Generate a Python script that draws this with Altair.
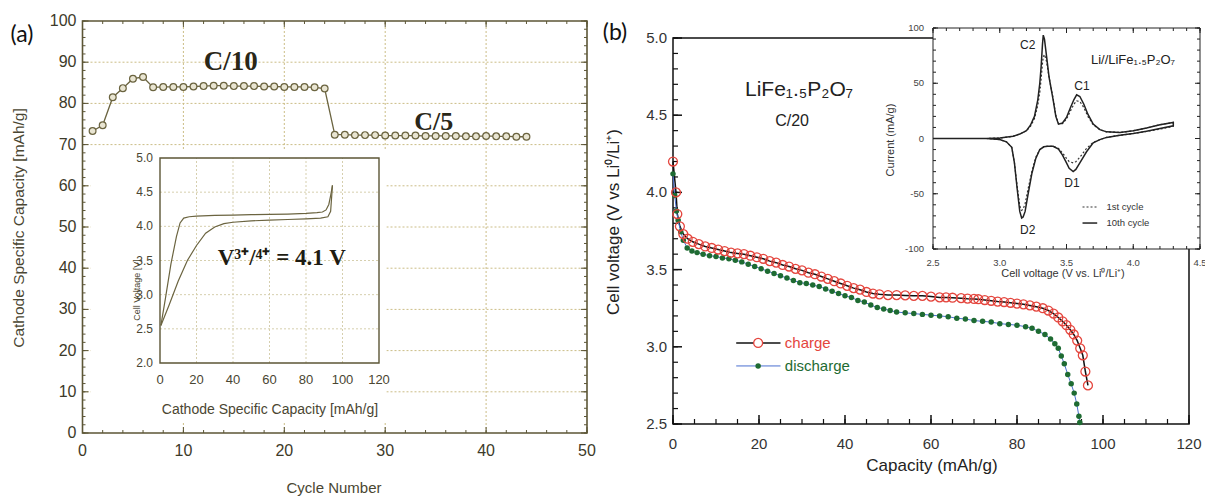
import altair as alt
import pandas as pd

W, H = 1205, 497
SANS = "Liberation Sans"
SERIF = "Liberation Serif"

# ---------------- panel (a): cycling ----------------
cycle_no = list(range(1, 45))
capacity_a = [73.3, 74.7, 81.5, 83.7, 86.0, 86.4, 83.9, 84.0, 84.0, 84.0,
              84.1, 84.2, 84.3, 84.3, 84.2, 84.2, 84.2, 84.1, 84.1, 84.0,
              84.0, 84.0, 83.9, 83.6, 72.4, 72.4, 72.3, 72.3, 72.3, 72.2,
              72.2, 72.2, 72.2, 72.1, 72.1, 72.1, 72.1, 72.0, 72.0, 72.1,
              72.0, 72.0, 71.9, 71.9]
a_xticks = [0, 10, 20, 30, 40, 50]
a_xlabels = ["0", "10", "20", "30", "40", "50"]
a_yticks = [0, 10, 20, 30, 40, 50, 60, 70, 80, 90, 100]
a_ylabels = ["0", "10", "20", "30", "40", "50", "60", "70", "80", "90", "100"]

# inset of (a): voltage profile
ins_up_cap = [0.5, 3, 6, 9, 11, 13, 16, 20, 30, 40, 50, 60, 70, 80, 86, 89, 91, 92.5, 93.5, 94.5]
ins_up_v = [2.55, 2.95, 3.45, 3.85, 4.05, 4.12, 4.14, 4.15, 4.16, 4.165, 4.17, 4.175, 4.18, 4.19,
            4.20, 4.21, 4.24, 4.32, 4.45, 4.60]
ins_dn_cap = [0.5, 5, 10, 15, 20, 25, 30, 35, 40, 50, 60, 70, 80, 88, 92, 93.5, 94.5]
ins_dn_v = [2.55, 2.85, 3.2, 3.5, 3.72, 3.9, 3.99, 4.04, 4.06, 4.08, 4.09, 4.10, 4.11, 4.12,
            4.14, 4.22, 4.60]
ia_xticks = [0, 20, 40, 60, 80, 100, 120]
ia_xlabels = ["0", "20", "40", "60", "80", "100", "120"]
ia_yticks = [2.0, 2.5, 3.0, 3.5, 4.0, 4.5, 5.0]
ia_ylabels = ["2.0", "2.5", "3.0", "3.5", "4.0", "4.5", "5.0"]

# ---------------- panel (b): charge / discharge ----------------
cap_charge = [0, 0.7, 1.0, 1.6, 2.4, 3.4, 4.6, 6.0, 7.5, 9.0, 10.5, 12.0, 13.5, 15.0, 16.5, 18.0,
              19.5, 21.0, 22.5, 24.0, 25.5, 27.0, 28.5, 30.0, 31.5, 33.0, 34.5, 36.0, 37.5, 39.0,
              40.5, 42.0, 43.5, 45.0, 46.5, 48.0, 50.0, 52.0, 54.0, 56.0, 58.0, 60.0, 62.0, 63.5,
              65.0, 67.0, 68.5, 70.0, 71.0, 72.5, 74.0, 75.5, 77.0, 78.5, 80.0, 81.5, 83.0, 84.5,
              86.0, 87.3, 88.5, 89.6, 90.6, 91.5, 92.4, 93.2, 94.0, 94.7, 95.3, 95.9, 96.5]
volt_charge = [4.20, 4.00, 3.86, 3.78, 3.73, 3.70, 3.68, 3.665, 3.65, 3.64, 3.63, 3.62, 3.61,
               3.605, 3.60, 3.59, 3.58, 3.57, 3.555, 3.545, 3.53, 3.52, 3.505, 3.495, 3.48, 3.47,
               3.455, 3.44, 3.425, 3.41, 3.395, 3.38, 3.37, 3.355, 3.345, 3.34, 3.335, 3.335,
               3.333, 3.33, 3.33, 3.325, 3.32, 3.32, 3.318, 3.315, 3.312, 3.31, 3.308, 3.303,
               3.298, 3.293, 3.29, 3.285, 3.28, 3.275, 3.268, 3.26, 3.25, 3.235, 3.215, 3.19,
               3.165, 3.14, 3.11, 3.08, 3.04, 2.99, 2.945, 2.84, 2.75]
cap_dis = [0, 0.4, 0.8, 1.2, 1.8, 2.4, 3.3, 4.4, 5.6, 7.0, 8.5, 10.0, 11.5, 13.0, 14.5, 16.0,
           17.5, 19.0, 20.5, 22.0, 23.5, 25.0, 26.5, 28.0, 29.5, 31.0, 32.5, 34.0, 35.5, 37.0,
           38.5, 40.0, 41.5, 43.0, 44.5, 46.0, 47.5, 49.0, 50.5, 52.0, 54.0, 56.0, 58.0, 60.0,
           62.0, 64.0, 66.0, 68.0, 70.0, 72.0, 74.0, 76.0, 78.0, 80.0, 82.0, 83.5, 85.0, 86.5,
           87.8, 88.8, 89.6, 90.3, 91.0, 91.8, 92.6, 93.3, 93.9, 94.4, 94.6]
volt_dis = [4.12, 3.98, 3.88, 3.82, 3.745, 3.69, 3.64, 3.62, 3.61, 3.60, 3.59, 3.585, 3.575, 3.57,
            3.56, 3.55, 3.535, 3.52, 3.505, 3.49, 3.475, 3.46, 3.445, 3.43, 3.415, 3.41, 3.40,
            3.39, 3.375, 3.36, 3.345, 3.33, 3.32, 3.30, 3.29, 3.27, 3.255, 3.245, 3.235, 3.225,
            3.22, 3.215, 3.21, 3.205, 3.20, 3.195, 3.185, 3.18, 3.17, 3.165, 3.16, 3.15, 3.145,
            3.14, 3.13, 3.12, 3.10, 3.08, 3.05, 3.02, 2.99, 2.94, 2.89, 2.82, 2.76, 2.70, 2.63,
            2.55, 2.51]
b_xticks = [0, 20, 40, 60, 80, 100, 120]
b_xlabels = ["0", "20", "40", "60", "80", "100", "120"]
b_yticks = [2.5, 3.0, 3.5, 4.0, 4.5, 5.0]
b_ylabels = ["2.5", "3.0", "3.5", "4.0", "4.5", "5.0"]

# inset of (b): cyclic voltammetry (anodic sweep then cathodic sweep)
cv_v_up = [2.5, 2.9, 3.0, 3.1, 3.15, 3.2, 3.23, 3.26, 3.285, 3.30, 3.31, 3.32, 3.326, 3.335,
           3.35, 3.37, 3.40, 3.42, 3.44, 3.47, 3.50, 3.53, 3.555, 3.576, 3.60, 3.63, 3.66, 3.70,
           3.75, 3.80, 3.90, 4.00, 4.10, 4.20, 4.30]
cv10_up = [0, 0, 0.5, 2, 4, 7, 12, 20, 35, 50, 65, 85, 93.5, 90, 75, 55, 35, 20, 13, 14, 19, 28,
           35, 39.5, 38, 31, 22, 13, 8, 6, 5.5, 7, 9.5, 12.5, 14.5]
cv1_up = [0, 0, 0.5, 2, 4, 7, 11, 18, 30, 42, 54, 68, 74, 76, 70, 55, 36, 21, 13.5, 13.5, 17.5,
          25, 31, 34, 33.5, 28, 20, 12.5, 8, 6, 5.5, 7, 9.5, 12.5, 14.5]
cv_v_dn = [4.30, 4.20, 4.10, 4.00, 3.90, 3.80, 3.75, 3.70, 3.65, 3.60, 3.57, 3.55, 3.52, 3.50,
           3.47, 3.44, 3.40, 3.36, 3.33, 3.30, 3.27, 3.24, 3.21, 3.19, 3.175, 3.164, 3.15, 3.13,
           3.11, 3.09, 3.05, 3.00, 2.90, 2.50]
cv10_dn = [11.5, 9, 6.5, 4.5, 3, 1, -1, -4, -12, -22, -28, -30, -27, -22, -15, -9.5, -7, -7,
           -7.5, -10, -18, -32, -52, -66, -71, -72, -66, -45, -22, -8, -3, -1, 0, 0]
cv1_dn = [11, 8.5, 6.5, 4.5, 3, 1, -1, -3.5, -9, -17, -21, -22, -21, -18, -13, -9, -7, -7, -7.5,
          -10, -17, -30, -47, -59, -64, -65, -61, -43, -22, -8, -3, -1, 0, 0]
c_xticks = [2.5, 3.0, 3.5, 4.0, 4.5]
c_xlabels = ["2.5", "3.0", "3.5", "4.0", "4.5"]
c_yticks = [-100, -50, 0, 50, 100]
c_ylabels = ["-100", "-50", "0", "50", "100"]


# ---------------- helpers ----------------
def S(dom, rng):
    return alt.Scale(domain=dom, range=rng, nice=False, zero=False)


def X(f, sc):
    return alt.X(f, type="quantitative", scale=sc, axis=None)


def Y(f, sc):
    return alt.Y(f, type="quantitative", scale=sc, axis=None)


def vrules(vals, lo, hi, xs, ys, **mk):
    d = pd.DataFrame({"v": vals, "lo": [lo] * len(vals), "hi": [hi] * len(vals)})
    return alt.Chart(d).mark_rule(**mk).encode(x=X("v", xs), y=Y("lo", ys), y2=alt.Y2(field="hi"))


def hrules(vals, lo, hi, xs, ys, **mk):
    d = pd.DataFrame({"v": vals, "lo": [lo] * len(vals), "hi": [hi] * len(vals)})
    return alt.Chart(d).mark_rule(**mk).encode(y=Y("v", ys), x=X("lo", xs), x2=alt.X2(field="hi"))


def xticks(vals, at, length, xs, ys, **mk):
    d = pd.DataFrame({"v": vals, "at": [at] * len(vals)})
    return alt.Chart(d).mark_rule(y2Offset=length, **mk).encode(
        x=X("v", xs), y=Y("at", ys), y2=alt.Y2(field="at"))


def yticks(vals, at, length, xs, ys, **mk):
    d = pd.DataFrame({"v": vals, "at": [at] * len(vals)})
    return alt.Chart(d).mark_rule(x2Offset=length, **mk).encode(
        y=Y("v", ys), x=X("at", xs), x2=alt.X2(field="at"))


def xlabels(vals, texts, at, dy, xs, ys, **mk):
    d = pd.DataFrame({"v": vals, "at": [at] * len(vals), "t": texts})
    return alt.Chart(d).mark_text(dy=dy, **mk).encode(
        x=X("v", xs), y=Y("at", ys), text=alt.Text("t:N"))


def ylabels(vals, texts, at, dx, xs, ys, **mk):
    d = pd.DataFrame({"v": vals, "at": [at] * len(vals), "t": texts})
    return alt.Chart(d).mark_text(dx=dx, align="right", **mk).encode(
        y=Y("v", ys), x=X("at", xs), text=alt.Text("t:N"))


def box(x0, x1, y0, y1, xs, ys, **mk):
    d = pd.DataFrame({"x0": [x0], "x1": [x1], "y0": [y0], "y1": [y1]})
    return alt.Chart(d).mark_rect(**mk).encode(
        x=X("x0", xs), x2=alt.X2(field="x1"), y=Y("y0", ys), y2=alt.Y2(field="y1"))


def line(xv, yv, xs, ys, **mk):
    d = pd.DataFrame({"x": xv, "y": yv, "i": list(range(len(xv)))})
    return alt.Chart(d).mark_line(**mk).encode(x=X("x", xs), y=Y("y", ys), order=alt.Order("i:Q"))


def pts(xv, yv, xs, ys, **mk):
    d = pd.DataFrame({"x": xv, "y": yv})
    return alt.Chart(d).mark_point(shape="circle", **mk).encode(x=X("x", xs), y=Y("y", ys))


def label(x, y, t, xs, ys, **mk):
    d = pd.DataFrame({"x": [x], "y": [y], "t": [t]})
    return alt.Chart(d).mark_text(**mk).encode(x=X("x", xs), y=Y("y", ys), text=alt.Text("t:N"))


def ptext(px, py, t, **mk):
    d = pd.DataFrame({"t": [t]})
    return alt.Chart(d).mark_text(**mk).encode(x=alt.value(px), y=alt.value(py), text=alt.Text("t:N"))


def minor(lo, hi, step):
    n = int(round((hi - lo) / step))
    return [round(lo + k * step, 4) for k in range(n + 1)]


# ---------------- scales (plot rectangles) ----------------
XA = S([0, 50], [82.5, 587])
YA = S([0, 100], [433, 21])
XI = S([0, 120], [160, 379])
YI = S([2.0, 5.0], [363, 158])
XB = S([0, 120], [673, 1189])
YB = S([2.5, 5.0], [424, 38])
XC = S([2.5, 4.5], [933, 1200])
YC = S([-100, 100], [249, 28])

OLIVE = "#5c5636"
OTXT = "#3d3a29"
GRID = "#cbbd86"
PT = "#6b6440"
RED = "#e4453d"
GREEN = "#1e6b32"
BLUE = "#4a6fd0"
DARK = "#222222"

L = []

# ---------- (a) main ----------
L.append(vrules([10, 20, 30, 40], 0, 100, XA, YA, color=GRID, strokeDash=[2, 2], strokeWidth=1))
L.append(hrules([10, 20, 30, 40, 50, 60, 70, 80, 90], 0, 50, XA, YA, color=GRID, strokeDash=[2, 2], strokeWidth=1))
# white backing of the inset picture
L.append(box(-38, 124, 1.14, 5.12, XI, YI, color="white"))
L.append(box(0, 50, 0, 100, XA, YA, fillOpacity=0, stroke=OLIVE, strokeWidth=1.6))
L.append(xticks(minor(0, 50, 2), 0, -3, XA, YA, color=OLIVE))
L.append(xticks(a_xticks, 0, -6, XA, YA, color=OLIVE))
L.append(xticks(minor(0, 50, 2), 100, 3, XA, YA, color=OLIVE))
L.append(xticks(a_xticks, 100, 6, XA, YA, color=OLIVE))
L.append(yticks(minor(0, 100, 2), 0, 3, XA, YA, color=OLIVE))
L.append(yticks(a_yticks, 0, 6, XA, YA, color=OLIVE))
L.append(yticks(minor(0, 100, 2), 50, -3, XA, YA, color=OLIVE))
L.append(yticks(a_yticks, 50, -6, XA, YA, color=OLIVE))
L.append(xlabels(a_xticks, a_xlabels, 0, 18, XA, YA, font=SANS, fontSize=16, color=OTXT))
L.append(ylabels(a_yticks, a_ylabels, 0, -6, XA, YA, font=SANS, fontSize=16, color=OTXT))
L.append(ptext(334, 488, "Cycle Number", font=SANS, fontSize=15, color="#4a4632"))
L.append(ptext(19, 228, "Cathode Specific Capacity [mAh/g]", font=SANS, fontSize=15.5,
               color="#4a4632", angle=270))
L.append(line(cycle_no, capacity_a, XA, YA, color=PT, strokeWidth=1.3))
L.append(pts(cycle_no, capacity_a, XA, YA, filled=True, fill="#e9e5d2", stroke=PT,
             strokeWidth=1.2, size=46, opacity=1))
L.append(label(14.7, 90, "C/10", XA, YA, font=SERIF, fontSize=27, fontWeight="bold", color="#2a2718"))
L.append(label(34.8, 75.5, "C/5", XA, YA, font=SERIF, fontSize=26, fontWeight="bold", color="#2a2718"))

# ---------- (a) inset ----------
L.append(vrules([20, 40, 60, 80, 100], 2.0, 5.0, XI, YI, color="#d6cfae", strokeDash=[2, 2], strokeWidth=1))
L.append(hrules([2.5, 3.0, 3.5, 4.0, 4.5], 0, 120, XI, YI, color="#d6cfae", strokeDash=[2, 2], strokeWidth=1))
L.append(box(0, 120, 2.0, 5.0, XI, YI, fillOpacity=0, stroke=OLIVE, strokeWidth=1.4))
L.append(xlabels(ia_xticks, ia_xlabels, 2.0, 17, XI, YI, font=SANS, fontSize=13, color="#4a4632"))
L.append(ylabels(ia_yticks, ia_ylabels, 0, -7, XI, YI, font=SANS, fontSize=12, color="#4a4632"))
L.append(ptext(270, 410, "Cathode Specific Capacity [mAh/g]", font=SANS, fontSize=14, color="#4a4632"))
L.append(ptext(137, 290, "Cell Voltage [V]", font=SANS, fontSize=9, color="#4a4632", angle=270))
L.append(line(ins_up_cap, ins_up_v, XI, YI, color=PT, strokeWidth=1.2))
L.append(line(ins_dn_cap, ins_dn_v, XI, YI, color=PT, strokeWidth=1.2))
L.append(label(66.7, 3.54, "V³⁺/⁴⁺ = 4.1 V", XI, YI, font=SERIF, fontSize=23, fontWeight="bold",
               color="#1e1c12"))

L.append(ptext(22, 35, "(a)", font="Lato", fontSize=23, color="#111111"))

# ---------- (b) main ----------
L.append(box(0, 120, 2.5, 5.0, XB, YB, fillOpacity=0, stroke="#111111", strokeWidth=1.5))
L.append(xticks(minor(0, 120, 5), 2.5, -5, XB, YB, color="#111111", strokeWidth=1.2))
L.append(xticks(b_xticks, 2.5, -9, XB, YB, color="#111111", strokeWidth=1.5))
L.append(yticks(minor(2.5, 5.0, 0.1), 0, 5, XB, YB, color="#111111", strokeWidth=1.2))
L.append(yticks(b_yticks, 0, 9, XB, YB, color="#111111", strokeWidth=1.5))
L.append(xlabels(b_xticks, b_xlabels, 2.5, 20, XB, YB, font=SANS, fontSize=15, color="#333333"))
L.append(ylabels(b_yticks, b_ylabels, 0, -6, XB, YB, font=SANS, fontSize=15, color="#333333"))
L.append(ptext(932, 466, "Capacity (mAh/g)", font=SANS, fontSize=17, color="#222222"))
L.append(ptext(614, 222, "Cell voltage (V vs Li⁰/Li⁺)", font=SANS, fontSize=17, color="#222222",
               angle=270))
L.append(line(cap_charge, volt_charge, XB, YB, color="#111111", strokeWidth=1.5))
L.append(line(cap_dis, volt_dis, XB, YB, color=BLUE, strokeWidth=1))
L.append(pts(cap_dis, volt_dis, XB, YB, filled=True, color=GREEN, size=30, opacity=1))
L.append(pts(cap_charge, volt_charge, XB, YB, filled=True, fill="white", fillOpacity=0,
             stroke=RED, strokeWidth=1.3, size=80, opacity=1))
L.append(label(29.3, 4.665, "LiFe₁.₅P₂O₇", XB, YB, font=SANS, fontSize=21, color="#222222"))
L.append(label(27.7, 4.46, "C/20", XB, YB, font=SANS, fontSize=16, color="#222222"))
# legend
L.append(hrules([3.025], 14.7, 25.0, XB, YB, color="#111111", strokeWidth=1.6))
L.append(pts([19.8], [3.025], XB, YB, filled=True, fill="white", stroke=RED, strokeWidth=1.3,
             size=80, opacity=1))
L.append(label(26.0, 3.025, "charge", XB, YB, align="left", font=SANS, fontSize=15, color=RED))
L.append(hrules([2.876], 14.7, 25.0, XB, YB, color=BLUE, strokeWidth=1))
L.append(pts([19.8], [2.876], XB, YB, filled=True, color=GREEN, size=30, opacity=1))
L.append(label(26.0, 2.876, "discharge", XB, YB, align="left", font=SANS, fontSize=15, color=GREEN))

L.append(ptext(615, 33, "(b)", font="Lato", fontSize=23, color="#111111"))

# ---------- (b) inset ----------
L.append(box(2.118, 4.388, -132.6, 89.0, XC, YC, color="white"))
L.append(box(2.5, 4.5, -100, 100, XC, YC, color="white", stroke=DARK, strokeWidth=1))
L.append(xticks(minor(2.5, 4.5, 0.1), -100, -3, XC, YC, color=DARK))
L.append(xticks(c_xticks, -100, -5, XC, YC, color=DARK))
L.append(xticks(minor(2.5, 4.5, 0.1), 100, 3, XC, YC, color=DARK))
L.append(xticks(c_xticks, 100, 5, XC, YC, color=DARK))
L.append(yticks(minor(-100, 100, 10), 2.5, 3, XC, YC, color=DARK))
L.append(yticks(c_yticks, 2.5, 5, XC, YC, color=DARK))
L.append(yticks(minor(-100, 100, 10), 4.5, -3, XC, YC, color=DARK))
L.append(yticks(c_yticks, 4.5, -5, XC, YC, color=DARK))
L.append(xlabels(c_xticks, c_xlabels, -100, 14, XC, YC, font=SANS, fontSize=9.5, color="#444444"))
L.append(ylabels(c_yticks, c_ylabels, 2.5, -9, XC, YC, font=SANS, fontSize=9.5, color="#444444"))
L.append(ptext(1063, 274, "Cell voltage (V vs. Li⁰/Li⁺)", font=SANS, fontSize=11, color="#333333"))
L.append(ptext(891, 140, "Current (mA/g)", font=SANS, fontSize=11, color="#333333", angle=270))
L.append(line(cv_v_up + cv_v_dn, cv1_up + cv1_dn, XC, YC, color="#333333", strokeWidth=1.2,
              strokeDash=[2, 2]))
L.append(line(cv_v_up + cv_v_dn, cv10_up + cv10_dn, XC, YC, color=DARK, strokeWidth=1.5))
L.append(label(3.21, 84.6, "C2", XC, YC, font=SANS, fontSize=12, color="#222222"))
L.append(label(3.616, 47.5, "C1", XC, YC, font=SANS, fontSize=12, color="#222222"))
L.append(label(3.541, -40.3, "D1", XC, YC, font=SANS, fontSize=12, color="#222222"))
L.append(label(3.21, -82.8, "D2", XC, YC, font=SANS, fontSize=12, color="#222222"))
L.append(label(3.998, 71, "Li//LiFe₁.₅P₂O₇", XC, YC, font=SANS, fontSize=13, color="#222222"))
L.append(hrules([-62], 3.62, 3.73, XC, YC, color="#333333", strokeDash=[2, 2], strokeWidth=1.2))
L.append(label(3.80, -62, "1st cycle", XC, YC, align="left", font=SANS, fontSize=9.5, color="#333333"))
L.append(hrules([-76.5], 3.62, 3.73, XC, YC, color=DARK, strokeWidth=1.5))
L.append(label(3.80, -76.5, "10th cycle", XC, YC, align="left", font=SANS, fontSize=9.5, color="#333333"))

chart = (
    alt.layer(*L)
    .resolve_scale(x="independent", y="independent")
    .properties(width=W, height=H, padding=0, autosize=alt.AutoSizeParams(type="none"),
                background="white")
    .configure_view(stroke=None)
)

chart.save("out.html", embed_options={"renderer": "svg", "actions": False})
